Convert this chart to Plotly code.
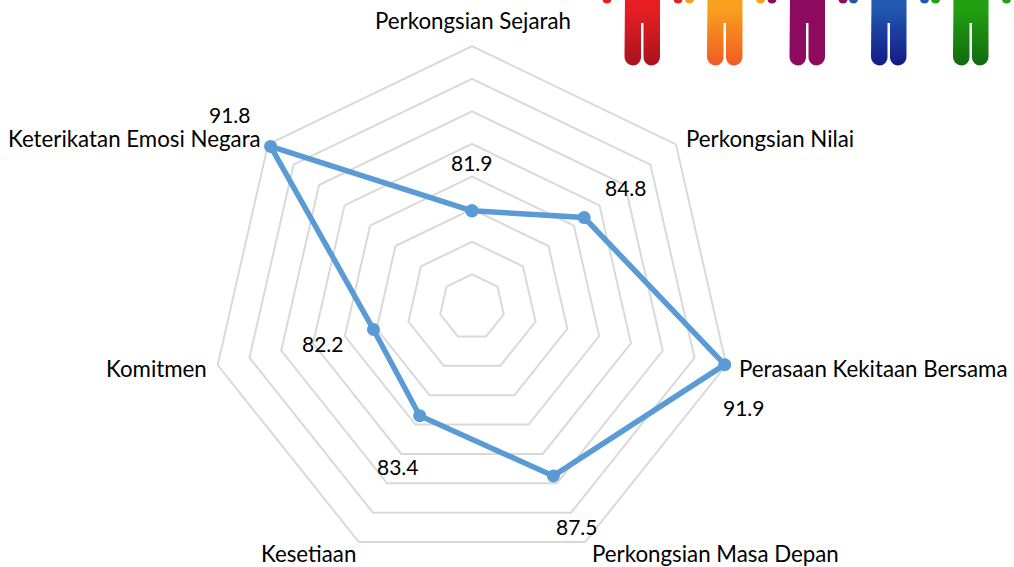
import base64
import plotly.graph_objects as go

categories = ["Perkongsian Sejarah", "Perkongsian Nilai", "Perasaan Kekitaan Bersama",
              "Perkongsian Masa Depan", "Kesetiaan", "Komitmen", "Keterikatan Emosi Negara"]
values = [81.9, 84.8, 91.9, 87.5, 83.4, 82.2, 91.8]

W, H = 1014, 590   # the window shows the top 567 px
cat_pos = [(473, 20), (770, 138), (873, 368), (715, 553), (308, 553), (156, 368), (134, 138)]
val_pos = [(472, 162), (626, 187), (744, 407), (577, 526), (398, 466), (323, 343), (230, 114)]

# decorative row of figures, cropped by the top edge
people = [(625, "#E81E25", "#A8141C"), (707.5, "#F9A01E", "#F05A24"), (790, "#8E0A5E", "#8E0A5E"),
          (871.5, "#2158B0", "#141A85"), (953.5, "#22A012", "#126A10")]
defs, body = "", ""
for i, (x, c1, c2) in enumerate(people):
    defs += (f'<linearGradient id="g{i}" x1="0" y1="0" x2="0" y2="1">'
             f'<stop offset="0" stop-color="{c1}"/><stop offset="0.2" stop-color="{c1}"/>'
             f'<stop offset="1" stop-color="{c2}"/></linearGradient>')
    body += (f'<path fill="url(#g{i})" d="M{x} -5H{x+35}V57a8.5 8.5 0 0 1 -8.5 8.5h-.5a8 8 0 0 1 -7.5 -8.5'
             f'V23H{x+19.5}V57a8 8 0 0 1 -8 8.5h-.5a8.5 8.5 0 0 1 -8 -8.5V23H{x+16}V57a8 8 0 0 1 -8 8.5'
             f'h-.5a8.5 8.5 0 0 1 -7.5 -8.5Z"/>' if False else
             f'<path fill="url(#g{i})" d="M{x} -5H{x+35}V57a8.5 8.5 0 0 1 -8.5 8.5h-.5a8 8 0 0 1 -7.5 -8.5'
             f'V23H{x+16}V57a8 8 0 0 1 -7.5 8.5h-.5a8.5 8.5 0 0 1 -8.5 -8.5Z"/>')
    body += f'<circle cx="{x-18}" cy="-1" r="4.5" fill="{c1}"/><circle cx="{x+53}" cy="-1" r="4.5" fill="{c1}"/>'
svg = f'<svg xmlns="http://www.w3.org/2000/svg" width="{W}" height="80" viewBox="0 0 {W} 80"><defs>{defs}</defs>{body}</svg>'
uri = "data:image/svg+xml;base64," + base64.b64encode(svg.encode()).decode()

fig = go.Figure(go.Scatterpolar(
    r=values + values[:1],
    theta=categories + categories[:1],
    mode="lines+markers",
    line=dict(color="#5B9BD5", width=5.5),
    marker=dict(color="#5B9BD5", size=13),
    hoverinfo="skip",
    cliponaxis=False,
))

annotations = []
for (x, y), t in zip(cat_pos, categories):
    annotations.append(dict(x=x / W, y=1 - y / H, xref="paper", yref="paper", text=t, showarrow=False,
                            xanchor="center", yanchor="middle", font=dict(family="Lato", size=22.3, color="#000000")))
for (x, y), v in zip(val_pos, values):
    annotations.append(dict(x=x / W, y=1 - y / H, xref="paper", yref="paper", text=f"{v:.1f}", showarrow=False,
                            xanchor="center", yanchor="middle", font=dict(family="Lato", size=21, color="#000000")))

# plot radius for the range [76, 92.5]; the outer ring is the grid line at 92
R, CX, CY = 269, 472, 307
fig.update_layout(
    width=W, height=H, margin=dict(l=0, r=0, t=0, b=0), autosize=False,
    paper_bgcolor="white", showlegend=False,
    polar=dict(
        domain=dict(x=[(CX - R) / W, (CX + R) / W], y=[1 - (CY + R) / H, 1 - (CY - R) / H]),
        bgcolor="white", gridshape="linear",
        radialaxis=dict(range=[76, 92.5], dtick=2, tick0=76, showticklabels=False, ticks="",
                        showline=False, gridcolor="#D9D9D9", gridwidth=2),
        angularaxis=dict(rotation=90, direction="clockwise", type="category",
                         categoryorder="array", categoryarray=categories,
                         showticklabels=False, ticks="", showgrid=False, showline=False),
    ),
    annotations=annotations,
    images=[dict(source=uri, xref="paper", yref="paper", x=0, y=1, sizex=1, sizey=80 / H,
                 sizing="stretch", xanchor="left", yanchor="top", layer="above")],
)
fig.write_html("out.html", config={"displayModeBar": False},
               post_script="document.body.style.margin='0';document.documentElement.style.overflow='hidden';")
